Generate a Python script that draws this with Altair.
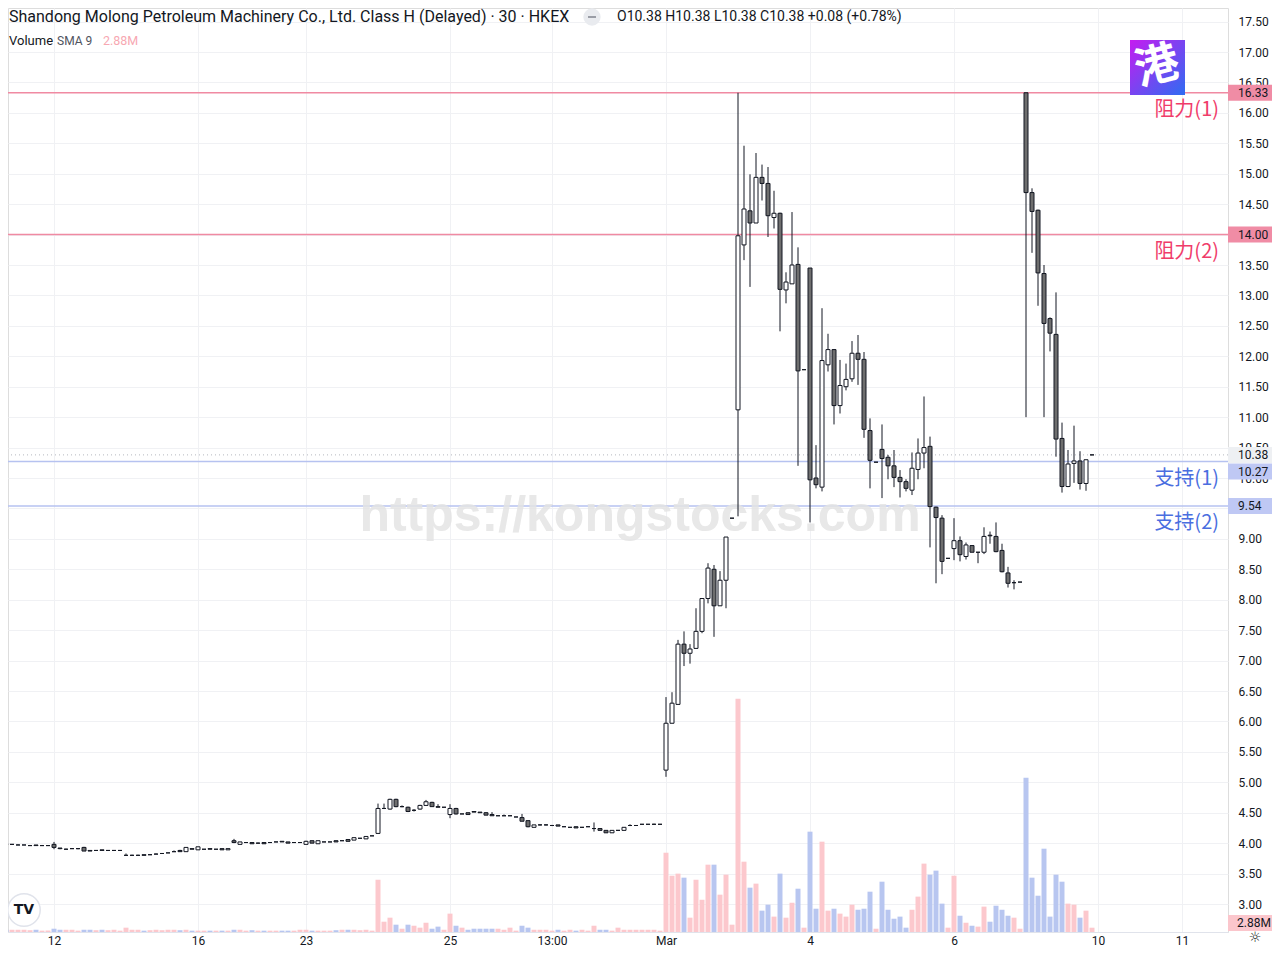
import altair as alt
import pandas as pd

# ---------------- data ----------------
opens = [
    4.00, 3.99, 3.98, 3.97, 3.97, 3.96, 3.97, 3.96, 3.96, 3.98,
    3.92, 3.90, 3.91, 3.91, 3.93, 3.88, 3.88, 3.89, 3.88, 3.88,
    3.88, 3.80, 3.80, 3.80, 3.81, 3.81, 3.82, 3.83, 3.84, 3.86,
    3.88, 3.86, 3.91, 3.89, 3.90, 3.91, 3.90, 3.91, 3.89, 4.04,
    3.98, 4.01, 4.01, 4.00, 4.01, 4.01, 4.02, 4.03, 4.02, 4.01,
    4.01, 3.98, 4.04, 3.99, 4.02, 4.02, 4.04, 4.04, 4.06, 4.05,
    4.08, 4.07, 4.12, 4.16, 4.57, 4.56, 4.72, 4.60, 4.59, 4.54,
    4.56, 4.62, 4.67, 4.60, 4.59, 4.47, 4.57, 4.48, 4.50, 4.52,
    4.51, 4.50, 4.47, 4.45, 4.45, 4.45, 4.43, 4.42, 4.37, 4.26,
    4.30, 4.30, 4.29, 4.30, 4.27, 4.26, 4.27, 4.26, 4.27, 4.24,
    4.24, 4.21, 4.17, 4.21, 4.21, 4.29, 4.29, 4.31, 4.31, 4.31,
    4.31, 5.20, 5.97, 6.28, 7.27, 7.12, 7.20, 7.48, 8.02, 8.50,
    7.90, 8.32, 9.34, 11.12, 13.83, 14.39, 14.19, 14.94, 14.84, 14.28,
    14.35, 13.09, 13.19, 13.51, 11.78, 13.45, 10.00, 9.85, 11.86, 12.11,
    11.19, 11.50, 11.63, 12.05, 11.95, 10.78, 10.26, 10.47, 10.34, 10.20,
    10.01, 9.94, 9.80, 10.14, 10.41, 10.52, 9.52, 9.34, 8.68, 8.84,
    8.97, 8.71, 8.89, 8.78, 8.78, 9.06, 9.04, 8.81, 8.44, 8.28,
    8.29, 16.33, 14.69, 14.40, 13.36, 12.62, 12.36, 10.65, 9.86, 10.24,
    10.28, 9.91, 10.38,
]
highs = [
    4.01, 3.99, 3.98, 3.98, 3.97, 3.97, 3.97, 3.97, 3.96, 4.02,
    3.92, 3.91, 3.92, 3.92, 3.94, 3.88, 3.88, 3.89, 3.88, 3.88,
    3.88, 3.83, 3.81, 3.81, 3.81, 3.82, 3.83, 3.83, 3.84, 3.88,
    3.89, 3.93, 3.91, 3.94, 3.90, 3.91, 3.90, 3.91, 3.91, 4.07,
    4.02, 4.01, 4.01, 4.01, 4.01, 4.01, 4.02, 4.03, 4.02, 4.01,
    4.01, 4.04, 4.04, 4.04, 4.02, 4.02, 4.04, 4.04, 4.06, 4.09,
    4.08, 4.11, 4.12, 4.65, 4.65, 4.73, 4.73, 4.62, 4.60, 4.56,
    4.63, 4.71, 4.68, 4.64, 4.59, 4.64, 4.58, 4.48, 4.50, 4.52,
    4.51, 4.51, 4.51, 4.45, 4.47, 4.45, 4.43, 4.48, 4.37, 4.30,
    4.31, 4.31, 4.30, 4.30, 4.27, 4.26, 4.27, 4.26, 4.27, 4.34,
    4.24, 4.21, 4.21, 4.21, 4.26, 4.31, 4.29, 4.31, 4.31, 4.32,
    4.31, 6.40, 6.48, 7.34, 7.48, 7.27, 7.86, 8.02, 8.60, 8.57,
    8.47, 9.03, 9.34, 16.33, 15.46, 14.99, 15.34, 15.15, 15.11, 14.72,
    14.36, 13.38, 14.37, 13.79, 11.78, 13.45, 10.54, 12.79, 12.37, 12.12,
    11.94, 11.88, 12.25, 12.35, 12.07, 10.98, 10.26, 10.88, 10.38, 10.46,
    10.13, 9.98, 10.42, 10.65, 11.34, 10.68, 9.53, 9.39, 8.68, 9.34,
    9.04, 8.94, 8.89, 8.78, 9.19, 9.12, 9.27, 8.92, 8.54, 8.32,
    8.29, 16.33, 14.76, 14.41, 13.50, 12.64, 13.05, 10.91, 10.46, 10.86,
    10.44, 10.30, 10.38,
]
lows = [
    3.99, 3.98, 3.98, 3.97, 3.97, 3.96, 3.96, 3.96, 3.96, 3.90,
    3.90, 3.90, 3.91, 3.90, 3.87, 3.87, 3.88, 3.88, 3.88, 3.88,
    3.88, 3.79, 3.80, 3.80, 3.80, 3.81, 3.82, 3.83, 3.84, 3.86,
    3.86, 3.86, 3.90, 3.89, 3.90, 3.90, 3.90, 3.89, 3.89, 4.00,
    3.98, 4.01, 3.99, 3.99, 3.99, 4.01, 4.02, 4.02, 4.00, 4.01,
    4.01, 3.98, 4.00, 3.99, 4.02, 4.02, 4.02, 4.04, 4.03, 4.05,
    4.08, 4.07, 4.12, 4.15, 4.56, 4.55, 4.59, 4.59, 4.51, 4.52,
    4.55, 4.61, 4.60, 4.59, 4.59, 4.41, 4.47, 4.48, 4.47, 4.51,
    4.50, 4.46, 4.45, 4.45, 4.45, 4.45, 4.43, 4.36, 4.26, 4.26,
    4.29, 4.29, 4.28, 4.28, 4.27, 4.26, 4.25, 4.26, 4.27, 4.19,
    4.21, 4.17, 4.17, 4.21, 4.21, 4.28, 4.29, 4.31, 4.31, 4.30,
    4.31, 5.09, 5.97, 6.28, 6.91, 6.95, 7.20, 7.45, 7.94, 7.39,
    7.90, 7.86, 9.34, 9.37, 13.58, 13.14, 14.19, 14.56, 13.96, 14.10,
    12.41, 12.87, 13.19, 10.20, 11.78, 9.27, 9.83, 9.78, 11.75, 10.88,
    11.06, 11.44, 11.58, 11.53, 10.66, 9.83, 10.26, 9.67, 9.98, 9.85,
    9.68, 9.78, 9.72, 9.98, 10.16, 8.86, 8.27, 8.42, 8.68, 8.65,
    8.63, 8.66, 8.78, 8.60, 8.75, 8.92, 8.78, 8.45, 8.20, 8.17,
    8.29, 11.00, 13.70, 12.83, 11.00, 12.08, 10.35, 9.76, 9.85, 9.92,
    9.81, 9.79, 10.38,
]
closes = [
    4.00, 3.98, 3.98, 3.97, 3.97, 3.96, 3.96, 3.96, 3.96, 3.93,
    3.91, 3.90, 3.91, 3.91, 3.87, 3.87, 3.88, 3.88, 3.88, 3.88,
    3.88, 3.80, 3.80, 3.80, 3.80, 3.81, 3.82, 3.83, 3.84, 3.86,
    3.86, 3.93, 3.90, 3.94, 3.90, 3.90, 3.90, 3.89, 3.91, 4.01,
    4.02, 4.01, 3.99, 4.00, 3.99, 4.01, 4.02, 4.02, 4.00, 4.01,
    4.01, 4.03, 4.00, 4.04, 4.02, 4.02, 4.02, 4.04, 4.03, 4.09,
    4.08, 4.11, 4.12, 4.57, 4.57, 4.72, 4.60, 4.60, 4.52, 4.54,
    4.62, 4.68, 4.60, 4.59, 4.59, 4.57, 4.48, 4.48, 4.47, 4.51,
    4.50, 4.46, 4.45, 4.45, 4.45, 4.45, 4.43, 4.36, 4.27, 4.30,
    4.30, 4.30, 4.29, 4.28, 4.27, 4.26, 4.25, 4.26, 4.27, 4.24,
    4.21, 4.17, 4.21, 4.21, 4.26, 4.29, 4.29, 4.31, 4.31, 4.31,
    4.31, 5.97, 6.30, 7.27, 7.12, 7.19, 7.48, 8.02, 8.52, 7.90,
    8.32, 9.03, 9.34, 13.98, 14.42, 14.19, 14.94, 14.84, 14.31, 14.35,
    13.10, 13.22, 13.50, 11.76, 11.78, 9.97, 9.89, 11.93, 12.11, 11.19,
    11.52, 11.62, 12.05, 11.95, 10.80, 10.29, 10.26, 10.32, 10.20, 10.01,
    9.94, 9.83, 10.16, 10.41, 10.50, 9.53, 9.35, 8.63, 8.68, 8.97,
    8.74, 8.90, 8.78, 8.78, 9.04, 9.05, 8.79, 8.46, 8.27, 8.28,
    8.29, 14.69, 14.38, 13.37, 12.54, 12.38, 10.64, 9.86, 10.23, 10.28,
    9.91, 10.30, 10.38,
]
volumes_m = [
    0.9, 1.5, 1.5, 1.5, 1.5, 1.2, 1.5, 0.9, 1.0, 2.2,
    1.5, 1.5, 1.5, 0.9, 1.5, 1.5, 1.2, 1.5, 1.2, 1.5,
    0.9, 2.9, 1.5, 1.5, 0.9, 1.2, 1.5, 1.2, 1.5, 1.5,
    1.2, 1.5, 0.9, 0.9, 0.9, 0.9, 0.9, 0.9, 0.9, 1.5,
    1.5, 0.9, 1.2, 0.9, 0.9, 0.9, 0.9, 0.9, 0.9, 0.9,
    1.5, 1.5, 0.9, 0.9, 0.9, 0.9, 1.2, 1.5, 1.5, 1.5,
    1.2, 1.5, 0.9, 35.0, 6.9, 9.6, 4.9, 2.2, 4.9, 4.2,
    2.9, 6.2, 2.2, 3.6, 1.5, 12.3, 4.2, 2.9, 1.5, 2.2,
    2.2, 2.2, 2.2, 2.2, 1.5, 2.9, 0.9, 4.2, 2.9, 1.5,
    1.5, 1.5, 0.9, 1.5, 0.9, 1.5, 0.9, 1.5, 0.9, 4.2,
    1.5, 1.5, 0.9, 2.9, 1.5, 1.5, 1.5, 1.5, 1.5, 1.5,
    0.9, 53.1, 37.7, 39.1, 36.4, 9.6, 35.0, 21.6, 45.1, 45.1,
    25.0, 38.4, 4.9, 156.3, 47.1, 29.7, 32.4, 14.3, 18.3, 10.3,
    39.1, 9.6, 19.6, 29.0, 2.9, 67.2, 15.6, 60.5, 14.3, 15.6,
    12.3, 10.3, 18.3, 14.9, 15.6, 27.0, 2.2, 33.7, 14.9, 8.9,
    10.3, 2.9, 14.9, 23.7, 45.8, 38.4, 41.1, 19.0, 2.9, 37.7,
    10.9, 6.2, 4.2, 3.6, 17.0, 6.9, 17.6, 14.9, 10.9, 9.6,
    2.2, 103.4, 36.4, 24.3, 55.8, 10.3, 38.4, 33.7, 19.0, 18.3,
    9.6, 14.3, 2.88,
]

tick_pos = [9, 33, 51, 75, 92, 111, 135, 159, 183, 197]
tick_labels = ["12", "16", "23", "25", "13:00", "Mar", "4", "6", "10", "11"]
price_ticks = [3.0 + 0.5 * k for k in range(30)]

level_prices = [16.33, 14.00, 10.27, 9.54]
level_labels = ["阻力(1)", "阻力(2)", "支持(1)", "支持(2)"]
level_kind = ["res", "res", "sup", "sup"]

tag_prices = [16.33, 14.00, 10.38, 9.54]
tag_kind = ["res", "res", "last", "sup"]
shifted_tag_price = 10.27   # drawn a little lower to clear the 10.38 tag

title_text = "Shandong Molong Petroleum Machinery Co., Ltd. Class H (Delayed) · 30 · HKEX"
ohlc_text = "O10.38 H10.38 L10.38 C10.38 +0.08 (+0.78%)"
last_volume_label = "2.88M"

# ---------------- styling ----------------
FONT = "Roboto"
TXT = "#131722"
GRID = "#f0f1f4"
UP_FILL, DOWN_FILL = "#ffffff", "#6e6e6e"
VOL_UP, VOL_DOWN = "#fcc8cd", "#b8c6f0"
RES_LINE, SUP_LINE = "#f08aa2", "#b6c2f0"
RES_TEXT, SUP_TEXT = "#f03c6a", "#4a6ee0"
TAG_BG = {"res": "#f08ca5", "sup": "#bfc8f4", "last": "#eef0f3"}

W, H = 1220, 924

df = pd.DataFrame({"i": range(len(opens)), "o": opens, "h": highs,
                   "l": lows, "c": closes, "v": volumes_m})
df["top"] = df[["o", "c"]].max(axis=1)
df["bot"] = df[["o", "c"]].min(axis=1)
df["fill"] = [UP_FILL if c >= o else DOWN_FILL for o, c in zip(opens, closes)]
df["vcol"] = [VOL_UP if c >= o else VOL_DOWN for o, c in zip(opens, closes)]

levels = pd.DataFrame({"p": level_prices, "lab": level_labels,
                       "col": [RES_LINE if k == "res" else SUP_LINE for k in level_kind],
                       "tcol": [RES_TEXT if k == "res" else SUP_TEXT for k in level_kind]})
tags = pd.DataFrame({"p": tag_prices, "lab": [f"{p:.2f}" for p in tag_prices],
                     "bg": [TAG_BG[k] for k in tag_kind]})
tag2 = pd.DataFrame({"p": [shifted_tag_price], "lab": [f"{shifted_tag_price:.2f}"]})
last_df = pd.DataFrame({"p": [closes[-1]]})
one = pd.DataFrame({"k": [0]})

xs = alt.Scale(domain=[8 / 6, 1228 / 6], nice=False, zero=False, padding=0)
ps = alt.Scale(domain=[2.54, 17.723], nice=False, zero=False, padding=0)
vs = alt.Scale(domain=[0, 618.9], nice=False, zero=False, padding=0)

label_expr = "".join(f"datum.value == {p} ? '{t}' : " for p, t in zip(tick_pos, tick_labels)) + "''"
x_axis = alt.Axis(values=tick_pos, labelExpr=label_expr, title=None, grid=True,
                  gridColor=GRID, ticks=False, domain=True, domainColor="#e0e3eb",
                  labelFont=FONT, labelFontSize=12, labelColor=TXT, labelPadding=3,
                  labelFlush=False, labelOverlap=False, labelBound=False)
X = alt.X("i:Q", scale=xs, axis=x_axis)
y_axis = alt.Axis(orient="right", values=price_ticks, format=".2f", title=None,
                  grid=True, gridColor=GRID, ticks=False, domain=False,
                  labelFont=FONT, labelFontSize=12, labelColor=TXT, labelPadding=10,
                  labelFlush=False, labelOverlap=False, labelBound=False)

base = alt.Chart(df)

volume = base.mark_bar(size=5, clip=True).encode(
    X, y=alt.Y("v:Q", scale=vs, axis=None), color=alt.Color("vcol:N", scale=None))

lines = alt.Chart(levels).mark_rule(strokeWidth=1.5).encode(
    y=alt.Y("p:Q", scale=ps, axis=None), color=alt.Color("col:N", scale=None))

dotted = alt.Chart(last_df).mark_rule(strokeDash=[1, 3], color="#a3a6af", opacity=0.8).encode(
    y=alt.Y("p:Q", scale=ps, axis=None))

watermark = alt.Chart(one).mark_text(
    text="https://kongstocks.com", font="Liberation Sans", fontWeight="bold",
    fontSize=50, color="#e4e4e4", opacity=0.85, align="center", baseline="alphabetic"
).encode(x=alt.value(632), y=alt.value(523))

wicks = base.mark_rule(color=TXT, strokeWidth=1, clip=True).encode(
    X, y=alt.Y("h:Q", scale=ps, axis=y_axis), y2="l:Q")

bodies = base.mark_bar(size=4, stroke=TXT, strokeWidth=1, clip=True).encode(
    X, y=alt.Y("top:Q", scale=ps, axis=None), y2="bot:Q",
    fill=alt.Fill("fill:N", scale=None))

level_text = alt.Chart(levels).mark_text(
    align="right", baseline="middle", dy=17, fontSize=20, font="Noto Sans CJK SC"
).encode(x=alt.value(1211), y=alt.Y("p:Q", scale=ps, axis=None),
         text="lab:N", color=alt.Color("tcol:N", scale=None))

BOX = "M-1,-0.3636H1V0.3636H-1Z"
BOX_LOW = "M-1,0.0909H1V0.8182H-1Z"   # same box, 10px lower
tag_box = alt.Chart(tags).mark_point(shape=BOX, size=1936, filled=True, opacity=1, strokeWidth=0).encode(
    x=alt.value(1242), y=alt.Y("p:Q", scale=ps, axis=None), fill=alt.Fill("bg:N", scale=None))
tag_text = alt.Chart(tags).mark_text(align="left", baseline="middle", font=FONT, fontSize=12, color=TXT).encode(
    x=alt.value(1230), y=alt.Y("p:Q", scale=ps, axis=None), text="lab:N")
tag2_box = alt.Chart(tag2).mark_point(shape=BOX_LOW, size=1936, filled=True, opacity=1, strokeWidth=0,
                                      color=TAG_BG["sup"]).encode(
    x=alt.value(1242), y=alt.Y("p:Q", scale=ps, axis=None))
tag2_text = alt.Chart(tag2).mark_text(align="left", baseline="middle", font=FONT, fontSize=12, color=TXT, dy=10).encode(
    x=alt.value(1230), y=alt.Y("p:Q", scale=ps, axis=None), text="lab:N")

vtag_box = alt.Chart(one).mark_point(shape=BOX, size=1936, filled=True, opacity=1, strokeWidth=0, color="#fbc6cc").encode(
    x=alt.value(1242), y=alt.value(915))
vtag_text = alt.Chart(one).mark_text(text=last_volume_label, align="left", baseline="middle",
                                     font=FONT, fontSize=12, color=TXT).encode(
    x=alt.value(1229), y=alt.value(915))

title = alt.Chart(one).mark_text(text=title_text, align="left", baseline="middle",
                                 font=FONT, fontSize=16, color=TXT).encode(x=alt.value(1), y=alt.value(9))
circle_icon = alt.Chart(one).mark_point(shape="circle", size=300, filled=True, color="#e9ebef", opacity=1).encode(
    x=alt.value(584), y=alt.value(9))
circle_dash = alt.Chart(one).mark_rule(color="#9a9da6", strokeWidth=2).encode(
    x=alt.value(580), x2=alt.value(588), y=alt.value(9))
ohlc = alt.Chart(one).mark_text(text=ohlc_text, align="left", baseline="middle",
                                font=FONT, fontSize=14, color=TXT).encode(x=alt.value(609), y=alt.value(9))
vol_name = alt.Chart(one).mark_text(text="Volume", align="left", baseline="middle",
                                    font=FONT, fontSize=13, color=TXT).encode(x=alt.value(1), y=alt.value(33))
vol_sma = alt.Chart(one).mark_text(text="SMA 9", align="left", baseline="middle",
                                   font=FONT, fontSize=12, color="#50535e").encode(x=alt.value(49), y=alt.value(33))
vol_val = alt.Chart(one).mark_text(text=last_volume_label, align="left", baseline="middle",
                                   font=FONT, fontSize=12.5, color="#f7a8b2").encode(x=alt.value(95), y=alt.value(33))

logo_rect = alt.Chart(one).mark_rect(color={
    "gradient": "linear", "x1": 0, "y1": 0, "x2": 1, "y2": 1,
    "stops": [{"offset": 0, "color": "#c51cf0"}, {"offset": 1, "color": "#2f6cf2"}]}).encode(
    x=alt.value(1122), x2=alt.value(1177), y=alt.value(32), y2=alt.value(87))
logo_glyph = alt.Chart(one).mark_text(text="港", font="Noto Sans CJK SC", fontWeight="bold",
                                      fontSize=44, color="white", align="center", baseline="middle",
                                      angle=345).encode(
    x=alt.value(1149.5), y=alt.value(59.5))

tv_circle = alt.Chart(one).mark_point(shape="circle", size=1050, filled=True, color="white",
                                      stroke="#e0e3eb", strokeWidth=1.5, opacity=1).encode(
    x=alt.value(16), y=alt.value(902))
tv_text = alt.Chart(one).mark_text(text="TV", font="DejaVu Sans", fontWeight="bold", fontSize=14,
                                   color=TXT, align="center", baseline="middle").encode(
    x=alt.value(16), y=alt.value(902))
gear = alt.Chart(one).mark_text(text="☼", font="DejaVu Sans", fontSize=14, color=TXT,
                                align="center", baseline="middle").encode(x=alt.value(1247), y=alt.value(930))

chart = alt.layer(
    volume, lines, dotted, watermark, wicks, bodies, level_text,
    tag_box, tag_text, tag2_box, tag2_text, vtag_box, vtag_text,
    title, circle_icon, circle_dash, ohlc, vol_name, vol_sma, vol_val,
    logo_rect, logo_glyph, tv_circle, tv_text, gear,
).resolve_scale(y="independent").properties(
    width=W, height=H,
    padding={"left": 0, "top": 0, "right": 44, "bottom": 16},
    autosize=alt.AutoSizeParams(type="none"),
).configure_view(stroke=None).configure(background="white")

chart.save("out.html", embed_options={"renderer": "svg", "actions": False})
